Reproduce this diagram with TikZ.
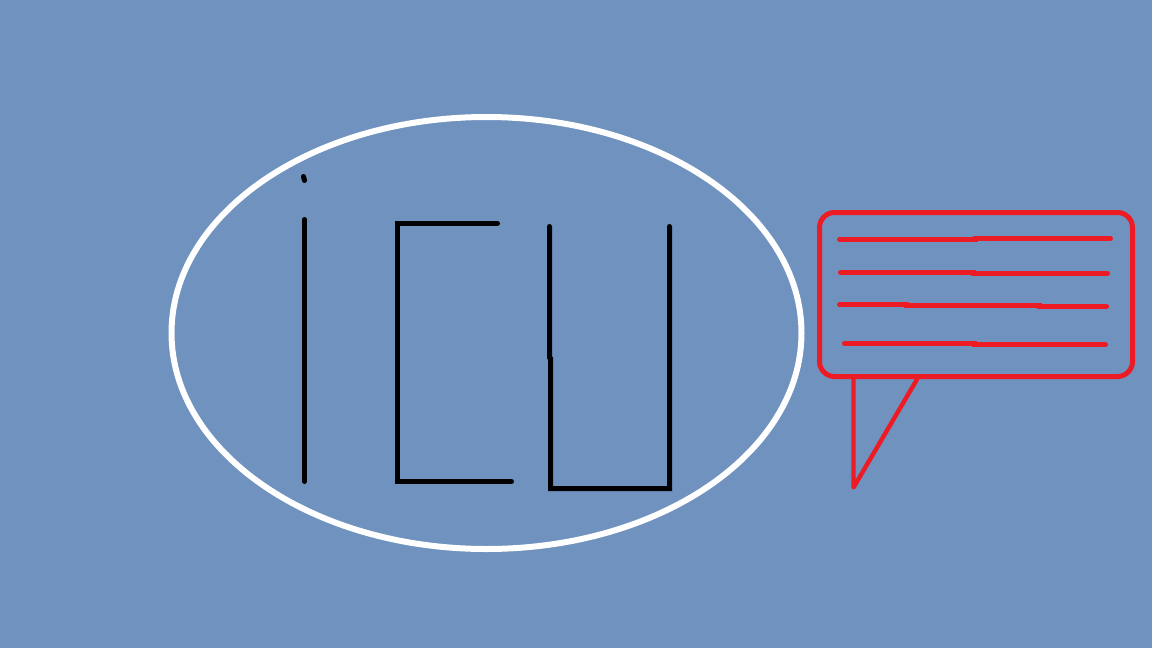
\documentclass[tikz,border=0pt]{standalone}
\definecolor{bgblue}{HTML}{6F92BF}
\definecolor{bubblered}{HTML}{ED1C24}
\begin{document}
\begin{tikzpicture}[x=1pt,y=-1pt,
  pen/.style={black,line width=5pt,line cap=round,line join=miter},
  ring/.style={white,line width=6pt},
  bubble/.style={bubblered,line width=5pt},
  tail/.style={bubblered,line width=4.4pt,line join=round},
  textline/.style={bubblered,line width=5pt,line cap=round}]
  \fill[bgblue] (0,0) rectangle (1152,648);
  \useasboundingbox (0,0) rectangle (1152,648);
  % circle round the letters
  \draw[ring] (486.5,333) ellipse [x radius=315,y radius=216];
  % letter i
  \draw[pen] (303.5,176.5) -- (304.5,180.5);
  \draw[pen] (304.5,219.5) -- (304.5,481.5);
  % letter c
  \draw[pen] (497.5,223.5) -- (397.5,223.5) -- (397.5,481.5) -- (511.5,481.5);
  % letter u
  \draw[pen] (549.5,226.5) -- (549.5,357.5) -- (550.5,358.5) -- (550.5,488.5)
     -- (669.5,488.5) -- (669.5,226.5);
  % speech bubble
  \draw[tail] (853.5,376.5) -- (853.5,487.5) -- (917.5,378.5);
  \draw[bubble,rounded corners=15pt] (819.5,212.5) rectangle (1132.5,376.5);
  % lines in the bubble
  \draw[textline] (839.5,239.5) -- (975.5,239.5) -- (975.5,238.5) -- (1110.5,238.5);
  \draw[textline] (840.5,272.5) -- (973.5,272.5) -- (973.5,273.5) -- (1107.5,273.5);
  \draw[textline] (839.5,304.5) -- (906.5,304.5) -- (906.5,305.5) -- (1039.5,305.5)
     -- (1039.5,306.5) -- (1106.5,306.5);
  \draw[textline] (844.5,343.5) -- (974.5,343.5) -- (974.5,344.5) -- (1105.5,344.5);
\end{tikzpicture}
\end{document}
